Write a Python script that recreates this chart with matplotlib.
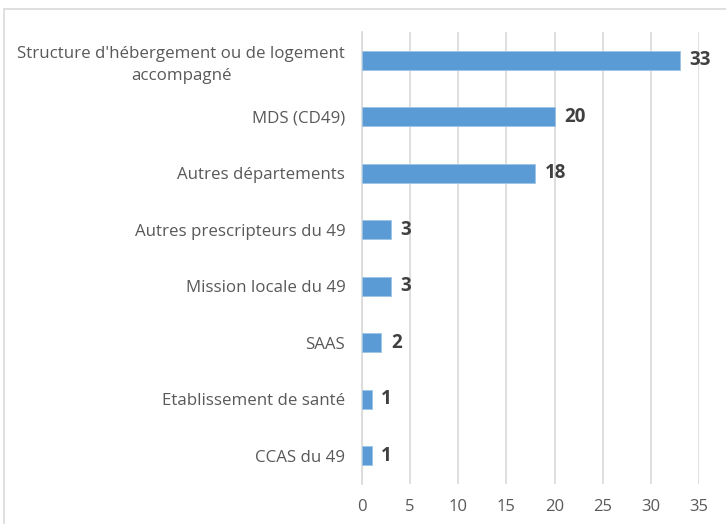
import matplotlib
matplotlib.use('Agg')
import matplotlib.pyplot as plt
from matplotlib.patches import Rectangle

categories = [
    "Structure d'hébergement ou de logement\naccompagné",
    "MDS (CD49)",
    "Autres départements",
    "Autres prescripteurs du 49",
    "Mission locale du 49",
    "SAAS",
    "Etablissement de santé",
    "CCAS du 49",
]
values = [33, 20, 18, 3, 3, 2, 1, 1]
xticks = [0, 5, 10, 15, 20, 25, 30, 35]

plt.rcParams['font.family'] = ['Open Sans', 'DejaVu Sans']

fig = plt.figure(figsize=(7.26, 5.24), dpi=100)
ax = fig.add_axes([362 / 726, 1 - 484 / 524, (699 - 362) / 726, (484 - 32) / 524])

# light frame around the chart area
fig.patches.append(Rectangle((4 / 726, -0.5), 2, 1.5 - 9 / 524, transform=fig.transFigure,
                             fill=False, edgecolor='#d9d9d9', linewidth=1.2))

ypos = list(range(len(categories)))
ax.barh(ypos, values, height=0.34, color='#5b9bd5', edgecolor='#9dc3e6', linewidth=0.6, zorder=3)
for y, v in zip(ypos, values):
    ax.text(v + 1.0, y, str(v), va='center', ha='left', fontsize=13.5, fontweight='bold',
            color='#404040')

ax.set_ylim(len(categories) - 0.5, -0.5)
ax.set_xlim(0, 35)
ax.set_xticks(xticks)
ax.set_yticks(ypos)
ax.set_yticklabels(categories, multialignment='center', linespacing=1.5)
ax.tick_params(axis='y', length=0, pad=12, labelsize=12.2, labelcolor='#595959')
ax.tick_params(axis='x', length=0, pad=11, labelsize=12, labelcolor='#595959')
ax.grid(axis='x', color='#d9d9d9', linewidth=1.2, zorder=0)
for s in ['top', 'right', 'bottom']:
    ax.spines[s].set_visible(False)
ax.spines['left'].set_color('#d9d9d9')
ax.spines['left'].set_linewidth(1.2)

plt.savefig('out.png', dpi=100)
